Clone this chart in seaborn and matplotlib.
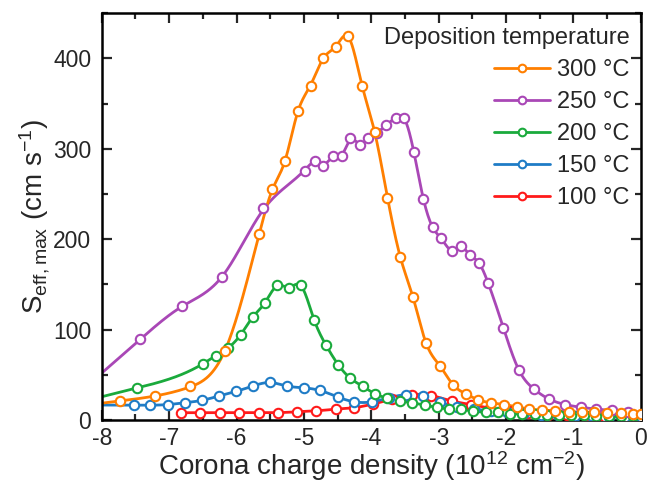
import numpy as np
import matplotlib
matplotlib.use("Agg")
import matplotlib.pyplot as plt
from matplotlib.lines import Line2D
from matplotlib.ticker import MultipleLocator
import seaborn as sns

# Effective surface recombination velocity vs. corona charge density
x_300 = [-7.73, -7.21, -6.69, -6.17, -5.66, -5.47, -5.28, -5.09, -4.90, -4.71, -4.52, -4.34,
         -4.14, -3.95, -3.76, -3.57, -3.38, -3.19, -2.98, -2.79, -2.60, -2.42, -2.23, -2.03,
         -1.84, -1.66, -1.46, -1.27, -1.07, -0.88, -0.69, -0.50, -0.30, -0.11, 0.0]
s_300 = [21, 26.5, 37, 76, 206, 255, 286, 342, 370, 401, 413, 425,
         370, 319, 246, 180, 136, 85, 60, 39, 29, 22.5, 19, 17,
         14.5, 12, 11, 10, 9, 8.6, 8.6, 8, 7.5, 7, 7]

x_250 = [-7.43, -6.81, -6.21, -5.60, -4.98, -4.84, -4.71, -4.57, -4.43, -4.31, -4.17, -4.05,
         -3.91, -3.78, -3.64, -3.51, -3.37, -3.23, -3.09, -2.96, -2.81, -2.67, -2.54, -2.40,
         -2.27, -2.04, -1.81, -1.59, -1.36, -1.12, -0.89, -0.66, -0.43, -0.19]
s_250 = [89, 126, 158, 234, 275, 286, 281, 292, 292, 312, 304, 312,
         318, 326, 334, 334, 297, 245, 213, 201, 187, 193, 182, 174,
         152, 102, 55, 34.5, 23, 17, 14, 12, 10.5, 9]

x_200 = [-7.48, -6.49, -6.31, -6.12, -5.94, -5.76, -5.58, -5.40, -5.22, -5.04, -4.85, -4.67,
         -4.49, -4.31, -4.13, -3.95, -3.77, -3.58, -3.39, -3.21, -3.03, -2.85, -2.67, -2.49,
         -2.30, -2.12, -1.94, -1.76, -1.57, -1.39, -1.21, -1.03, -0.85, -0.67, -0.48, -0.30, -0.12]
s_200 = [35.5, 62, 71, 80, 94, 114, 129, 149, 146, 149, 110.5, 82.6,
         61, 46, 37.4, 29, 24.3, 21, 19, 16.3, 14, 12, 11.6, 9.7,
         8.6, 8.6, 6.7, 7, 6.7, 6, 5.5, 5, 5, 4.5, 4.5, 4, 4]

x_150 = [-7.52, -7.28, -7.02, -6.77, -6.51, -6.26, -6.01, -5.76, -5.51, -5.25, -5.00, -4.76,
         -4.50, -4.25, -3.99, -3.74, -3.49, -3.24, -2.98, -2.73, -2.48, -2.23, -1.98, -1.73,
         -1.48, -1.23, -0.98, -0.73, -0.48, -0.23, 0.0]
s_150 = [16.3, 16.3, 17, 19, 21.7, 26.5, 31.5, 37.4, 41.5, 37.4, 35.5, 32.6,
         25.4, 20, 20, 24.5, 28, 27, 20, 14, 12, 10, 9, 8,
         6, 5, 4.5, 4, 3.5, 3, 3]

x_100 = [-6.82, -6.54, -6.25, -5.96, -5.67, -5.39, -5.10, -4.82, -4.53, -4.25, -3.97, -3.69,
         -3.39, -3.11, -2.81, -2.52, -2.24, -1.95, -1.67, -1.38, -1.10, -0.81, -0.53, -0.24]
s_100 = [8, 8, 8, 8, 8, 8, 9, 10, 12, 13.6, 17.7, 23,
         28, 27, 21, 17, 13, 10, 8, 6, 5, 4, 3.5, 3]

labels = ["300 °C", "250 °C", "200 °C", "150 °C", "100 °C"]
colors = ["#FF7F00", "#A947B6", "#1AAA3C", "#1F7CC6", "#FF1A1A"]
xs = [x_300, x_250, x_200, x_150, x_100]
ss = [s_300, s_250, s_200, s_150, s_100]
extend_left = [True, True, True, True, False]

x_ticks = [-8, -7, -6, -5, -4, -3, -2, -1, 0]
y_ticks = [0, 100, 200, 300, 400]


def smoothing_spline(x, y, grid, lam=3e-5):
    """Weighted cubic smoothing spline (Reinsch) with linear continuation on the left.

    Points in sparsely sampled stretches get lower weight, so the curve is
    smoothed more there than in densely sampled stretches.
    """
    x = np.asarray(x, float)
    y = np.asarray(y, float)
    n = len(x)
    h = np.diff(x)
    spacing = np.gradient(x)
    w = np.minimum(1.0, (0.2 / spacing) ** 3)
    Winv = np.diag(1.0 / w)
    Q = np.zeros((n, n - 2))
    R = np.zeros((n - 2, n - 2))
    for j in range(1, n - 1):
        Q[j - 1, j - 1] = 1.0 / h[j - 1]
        Q[j, j - 1] = -1.0 / h[j - 1] - 1.0 / h[j]
        Q[j + 1, j - 1] = 1.0 / h[j]
        R[j - 1, j - 1] = (h[j - 1] + h[j]) / 3.0
        if j < n - 2:
            R[j - 1, j] = R[j, j - 1] = h[j] / 6.0
    gamma = np.linalg.solve(R + lam * Q.T @ Winv @ Q, Q.T @ y)
    g = y - lam * Winv @ Q @ gamma
    M = np.concatenate([[0.0], gamma, [0.0]])

    out = np.empty_like(grid)
    slope0 = (g[1] - g[0]) / h[0] - h[0] * M[1] / 6.0
    for k, t in enumerate(grid):
        if t <= x[0]:
            out[k] = g[0] + slope0 * (t - x[0])
            continue
        i = min(np.searchsorted(x, t) - 1, n - 2)
        hi = h[i]
        a = x[i + 1] - t
        b = t - x[i]
        out[k] = (M[i] * a ** 3 + M[i + 1] * b ** 3) / (6 * hi) \
            + (g[i] - M[i] * hi ** 2 / 6) * a / hi \
            + (g[i + 1] - M[i + 1] * hi ** 2 / 6) * b / hi
    return out


sns.set_style("ticks")
plt.rcParams["font.family"] = ["Liberation Sans", "DejaVu Sans"]
plt.rcParams["mathtext.fontset"] = "custom"
plt.rcParams["mathtext.rm"] = "Liberation Sans"
plt.rcParams["mathtext.it"] = "Liberation Sans:italic"
plt.rcParams["mathtext.default"] = "regular"
plt.rcParams["axes.unicode_minus"] = False

fig = plt.figure(figsize=(6.48, 4.9), dpi=100)
ax = fig.add_axes([0.157, 0.143, 0.832, 0.830])

# draw from lowest to highest temperature so the 300 °C series sits on top
for x, s, c, ext in reversed(list(zip(xs, ss, colors, extend_left))):
    start = -8.0 if ext else x[0]
    grid = np.linspace(start, x[-1], 800)
    sns.lineplot(x=grid, y=smoothing_spline(x, s, grid), color=c, lw=2.0, ax=ax,
                 zorder=2, clip_on=True)
    sns.scatterplot(x=x, y=s, marker="o", s=46, facecolor="white", edgecolor=c,
                    linewidth=1.5, ax=ax, zorder=3, clip_on=True)

ax.set_xlim(-8, 0)
ax.set_ylim(0, 450)
ax.set_xticks(x_ticks)
ax.set_yticks(y_ticks)
ax.xaxis.set_minor_locator(MultipleLocator(0.5))
ax.yaxis.set_minor_locator(MultipleLocator(50))
ax.tick_params(which="both", direction="in", top=True, right=True, width=1.6,
               labelsize=16.5)
ax.tick_params(axis="x", which="both", pad=5)
ax.tick_params(axis="y", which="both", pad=7.5)
ax.tick_params(which="major", length=7)
ax.tick_params(which="minor", length=4)
for sp in ax.spines.values():
    sp.set_visible(True)
    sp.set_linewidth(1.8)
    sp.set_color("black")

ax.set_xlabel("Corona charge density (10$^{12}$ cm$^{-2}$)", fontsize=20, labelpad=-0.5)
ax.set_ylabel("S$_{\\mathrm{eff,max}}$ (cm s$^{-1}$)", fontsize=20, labelpad=1)

handles = [Line2D([], [], color=c, lw=2.0, marker="o", markersize=5.5,
                  markerfacecolor="white", markeredgecolor=c, markeredgewidth=1.5)
           for c in colors]
ax.legend(handles, labels, title="Deposition temperature", loc="upper right",
          frameon=False, fontsize=17, title_fontsize=17, handlelength=2.35,
          handletextpad=0.3, labelspacing=0.42, alignment="right",
          borderpad=0.6, borderaxespad=0.0, bbox_to_anchor=(1.005, 1.0))

fig.savefig("out.png", dpi=100)
